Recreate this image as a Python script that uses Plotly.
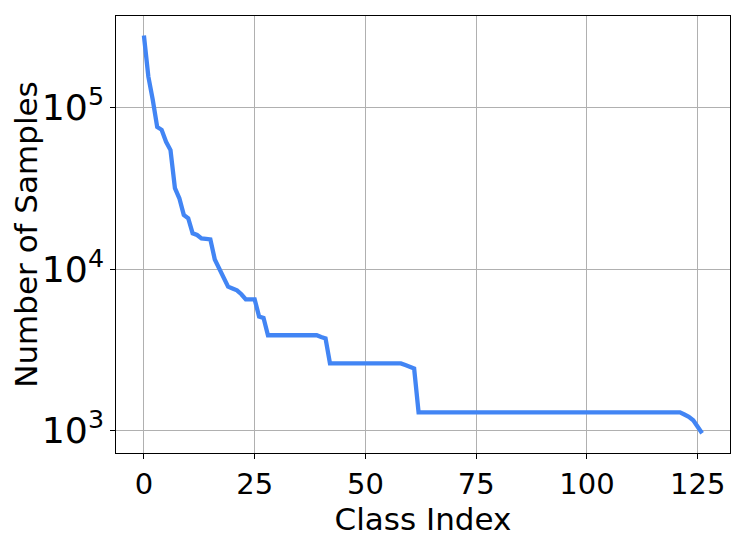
import plotly.graph_objects as go

# Class index (0..126)
class_index = list(range(127))

# Number of samples per class (log scale)
num_samples = [
    280000, 156000, 112000, 76000, 73000, 61500, 54700, 31800, 27500, 21700,
    20700, 16700, 16300, 15500, 15400, 15300, 11500, 10200, 9000, 7800,
    7600, 7400, 7000, 6500, 6500, 6500, 5100, 5000, 3900, 3900,
    3900, 3900, 3900, 3900, 3900, 3900, 3900, 3900, 3900, 3900,
    3800, 3730, 2610, 2610, 2610, 2610, 2610, 2610, 2610, 2610,
    2610, 2610, 2610, 2610, 2610, 2610, 2610, 2610, 2610, 2550,
    2500, 2430, 1300, 1300, 1300, 1300, 1300, 1300, 1300, 1300,
    1300, 1300, 1300, 1300, 1300, 1300, 1300, 1300, 1300, 1300,
    1300, 1300, 1300, 1300, 1300, 1300, 1300, 1300, 1300, 1300,
    1300, 1300, 1300, 1300, 1300, 1300, 1300, 1300, 1300, 1300,
    1300, 1300, 1300, 1300, 1300, 1300, 1300, 1300, 1300, 1300,
    1300, 1300, 1300, 1300, 1300, 1300, 1300, 1300, 1300, 1300,
    1300, 1300, 1260, 1220, 1160, 1050, 964,
]

x_tick_values = [0, 25, 50, 75, 100, 125]
x_title = "Class Index"
y_title = "Number of Samples"

FONT = "DejaVu Sans"

fig = go.Figure()
fig.add_trace(go.Scatter(
    x=class_index, y=num_samples, mode="lines",
    line=dict(color="#4285F4", width=4.3),
    showlegend=False,
))

# page body has an 8px margin, so the figure is shrunk accordingly
fig.update_layout(
    width=739, height=535,
    margin=dict(l=108, r=17, t=8, b=90),
    paper_bgcolor="white", plot_bgcolor="white",
    font=dict(family=FONT, color="black", size=29),
)

fig.update_xaxes(
    range=[-6.3, 132.3],
    tickvals=x_tick_values,
    ticks="outside", ticklen=5, tickwidth=1.2, tickcolor="black",
    showline=True, linecolor="black", linewidth=1.3, mirror=True,
    showgrid=True, gridcolor="#b0b0b0", gridwidth=1,
    zeroline=False,
    tickfont=dict(family=FONT, size=29, color="black"),
    title=dict(text=x_title, font=dict(family=FONT, size=31, color="black"), standoff=0),
    automargin=False,
)

fig.update_yaxes(
    type="log",
    range=[2.862, 5.568],
    dtick=1,
    exponentformat="power",
    ticks="outside", ticklen=5, tickwidth=1.2, tickcolor="black",
    showline=True, linecolor="black", linewidth=1.3, mirror=True,
    showgrid=True, gridcolor="#b0b0b0", gridwidth=1,
    zeroline=False,
    tickfont=dict(family=FONT, size=29, color="black"),
    title=dict(text=y_title, font=dict(family=FONT, size=31, color="black"), standoff=3),
    automargin=False,
)

fig.write_html("out.html")
